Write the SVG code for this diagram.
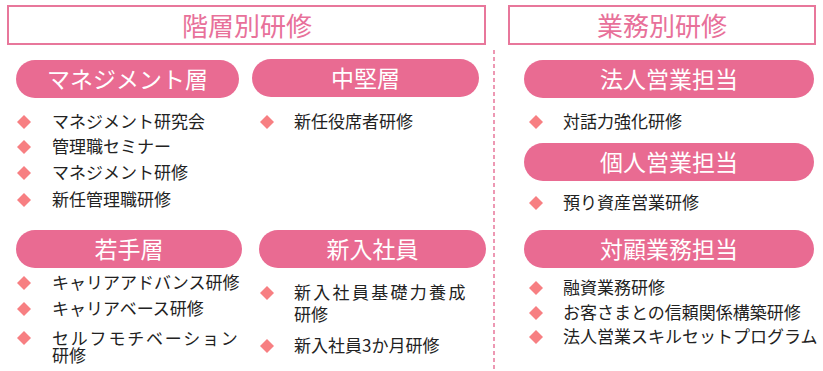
<svg xmlns="http://www.w3.org/2000/svg" xmlns:xlink="http://www.w3.org/1999/xlink" width="823" height="371" viewBox="0 0 823 371">
<style>
.title{fill:#fff;stroke:#E8779B;stroke-width:2}
.ttext{font-family:"Noto Sans CJK JP","Noto Sans",sans-serif;font-size:26px;fill:#E8719A;text-anchor:middle}
.pill{fill:#E96B92}
.ptext{font-family:"Noto Sans CJK JP","Noto Sans",sans-serif;font-size:23px;fill:#fff;text-anchor:middle}
.item{font-family:"Noto Sans CJK JP","Noto Sans",sans-serif;font-size:17px;fill:#222}
.dia{fill:#F77F82}
.sep{stroke:#E8779B;stroke-width:1.5;stroke-dasharray:4 3;fill:none}
</style>
<defs>
<path id="d" class="dia" d="M-7 0L0-7L7 0L0 7Z"/>
</defs>
<rect width="823" height="371" fill="#fff"/>
<g id="connectors">
<line class="sep" x1="494" y1="50" x2="494" y2="371"/>
</g>
<g id="title-left">
<rect class="title" x="8" y="6" width="477" height="38"/>
<text class="ttext" x="247" y="36">階層別研修</text>
</g>
<g id="title-right">
<rect class="title" x="509" y="6" width="306" height="38"/>
<text class="ttext" x="662" y="36">業務別研修</text>
</g>
<g id="management">
<rect class="pill" x="16" y="60" width="223" height="38" rx="19"/>
<text class="ptext" x="127.5" y="87.5">マネジメント層</text>
<use xlink:href="#d" x="24" y="122"/>
<text class="item" x="52" y="128">マネジメント研究会</text>
<use xlink:href="#d" x="24" y="147"/>
<text class="item" x="52" y="153">管理職セミナー</text>
<use xlink:href="#d" x="24" y="173"/>
<text class="item" x="52" y="179">マネジメント研修</text>
<use xlink:href="#d" x="24" y="200"/>
<text class="item" x="52" y="206">新任管理職研修</text>
</g>
<g id="middle">
<rect class="pill" x="252" y="59" width="227" height="38" rx="19"/>
<text class="ptext" x="365.5" y="86.5">中堅層</text>
<use xlink:href="#d" x="267" y="122"/>
<text class="item" x="294" y="128">新任役席者研修</text>
</g>
<g id="young">
<rect class="pill" x="16" y="230" width="226" height="38" rx="19"/>
<text class="ptext" x="129" y="257.5">若手層</text>
<use xlink:href="#d" x="24" y="283"/>
<text class="item" x="52" y="289">キャリアアドバンス研修</text>
<use xlink:href="#d" x="24" y="309"/>
<text class="item" x="52" y="315">キャリアベース研修</text>
<use xlink:href="#d" x="24" y="338"/>
<text class="item" x="52" y="345"><tspan letter-spacing="1.8">セルフモチベーション</tspan><tspan x="52" y="362">研修</tspan></text>
</g>
<g id="newcomer">
<rect class="pill" x="259" y="230" width="227" height="38" rx="19"/>
<text class="ptext" x="372.5" y="257.5">新入社員</text>
<use xlink:href="#d" x="267" y="293"/>
<text class="item" x="294" y="299"><tspan letter-spacing="2.3">新入社員基礎力養成</tspan><tspan x="294" y="321">研修</tspan></text>
<use xlink:href="#d" x="267" y="346"/>
<text class="item" x="294" y="352">新入社員3か月研修</text>
</g>
<g id="corporate">
<rect class="pill" x="524" y="60" width="290" height="38" rx="19"/>
<text class="ptext" x="669" y="87.5">法人営業担当</text>
<use xlink:href="#d" x="536" y="122"/>
<text class="item" x="563" y="128">対話力強化研修</text>
</g>
<g id="personal">
<rect class="pill" x="524" y="143" width="290" height="38" rx="19"/>
<text class="ptext" x="669" y="170.5">個人営業担当</text>
<use xlink:href="#d" x="536" y="203"/>
<text class="item" x="563" y="209">預り資産営業研修</text>
</g>
<g id="customer">
<rect class="pill" x="524" y="230" width="290" height="38" rx="19"/>
<text class="ptext" x="669" y="257.5">対顧業務担当</text>
<use xlink:href="#d" x="536" y="288"/>
<text class="item" x="563" y="294">融資業務研修</text>
<use xlink:href="#d" x="536" y="313"/>
<text class="item" x="563" y="319">お客さまとの信頼関係構築研修</text>
<use xlink:href="#d" x="536" y="337"/>
<text class="item" x="563" y="343">法人営業スキルセットプログラム</text>
</g>
</svg>
